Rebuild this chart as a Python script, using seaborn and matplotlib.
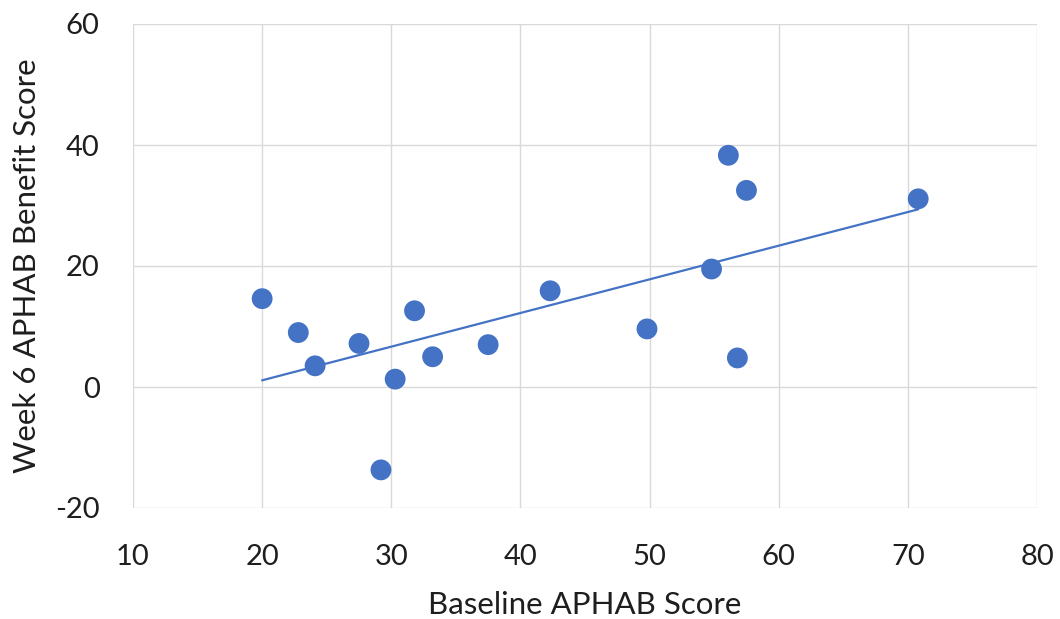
import numpy as np
import pandas as pd
import matplotlib
matplotlib.use('Agg')
import matplotlib.pyplot as plt
import seaborn as sns

# values
baseline = [20.0, 22.8, 24.1, 27.5, 29.2, 30.3, 31.8, 33.2, 37.5, 42.3,
            49.8, 54.8, 56.1, 56.8, 57.5, 70.8]
benefit = [14.6, 9.0, 3.5, 7.2, -13.7, 1.3, 12.6, 5.0, 7.0, 15.9,
           9.6, 19.5, 38.3, 4.8, 32.5, 31.1]
x_ticks = [10, 20, 30, 40, 50, 60, 70, 80]
y_ticks = [-20, 0, 20, 40, 60]

df = pd.DataFrame({'baseline': baseline, 'benefit': benefit})

sns.set_style('white')
plt.rcParams['font.family'] = ['Lato', 'DejaVu Sans']
plt.rcParams['axes.unicode_minus'] = False

blue = '#4472C4'
txt = '#1e1e1e'
fig = plt.figure(figsize=(10.6, 6.19), dpi=100)
ax = fig.add_axes([133 / 1060, 1 - 508 / 619, (1037 - 133) / 1060, (508 - 24) / 619])

# linear trend line over the data range
sns.regplot(data=df, x='baseline', y='benefit', ax=ax, scatter=False, ci=None,
            truncate=True, line_kws={'color': blue, 'linewidth': 1.6, 'zorder': 2})
sns.scatterplot(data=df, x='baseline', y='benefit', ax=ax, s=225, color=blue,
                edgecolor='none', zorder=3)

ax.set_xlim(10, 80)
ax.set_ylim(-20, 60)
ax.set_xticks(x_ticks)
ax.set_yticks(y_ticks)
ax.grid(True, color='#D9D9D9', linewidth=1)
ax.set_axisbelow(True)
for s in ax.spines.values():
    s.set_visible(False)
ax.tick_params(axis='x', labelsize=21, colors=txt, length=0, pad=26)
ax.tick_params(axis='y', labelsize=21, colors=txt, length=0, pad=24)
ax.set_xlabel('Baseline APHAB Score', fontsize=22.5, color=txt, va='center')
ax.set_ylabel('Week 6 APHAB Benefit Score', fontsize=22.5, color=txt, va='center')
ax.xaxis.set_label_coords(0.5, (508 - 605) / 484)
ax.yaxis.set_label_coords((27 - 133) / 904, 0.5)

fig.savefig('out.png', dpi=100)
